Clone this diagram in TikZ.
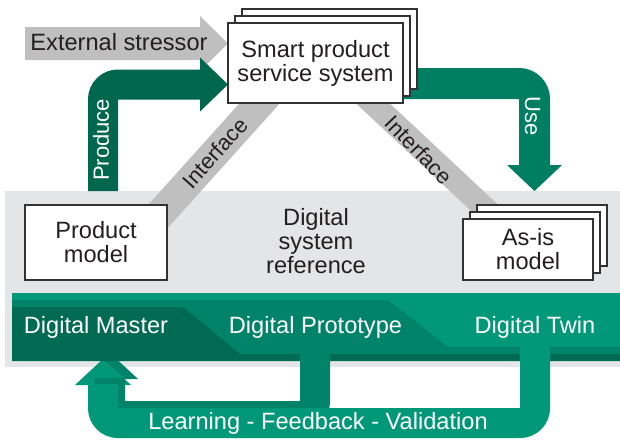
\documentclass[tikz,border=0pt]{standalone}
\usepackage{fontspec}
\setmainfont{Liberation Sans}
\definecolor{arrgray}{RGB}{191,191,191}
\definecolor{bandgray}{RGB}{228,229,230}
\definecolor{gProduce}{RGB}{0,103,79}
\definecolor{gUse}{RGB}{0,126,97}
\definecolor{gMaster}{RGB}{0,107,82}
\definecolor{gProto}{RGB}{0,131,104}
\definecolor{gTwin}{RGB}{0,152,121}
\definecolor{txt}{RGB}{35,31,32}
\definecolor{boxline}{RGB}{50,50,50}
\newcommand\bigf{\fontsize{23.6}{24}\selectfont}
\newcommand\smf{\fontsize{22}{24}\selectfont}
\begin{document}
\begin{tikzpicture}[x=1pt,y=-1pt,
  box/.style={draw=boxline, fill=white, line width=1.1pt},
  boxnode/.style={box, inner sep=0pt, align=center, text=txt, font=\bigf},
  wlabel/.style={text=white, inner sep=0pt, font=\bigf},
  rlabel/.style={inner sep=0pt, font=\smf},
  bar/.style={line width=30pt, rounded corners=15pt}]
\useasboundingbox (0,0) rectangle (620,442);
% light gray digital system reference band
\fill[bandgray] (5,191) rectangle (620,367);
% interface bands
\coordinate (ifLa) at (127.7,250);
\coordinate (ifLb) at (289.7,70);
\coordinate (ifRa) at (337.1,70);
\coordinate (ifRb) at (513.7,235);
\draw[arrgray, line width=30pt] (ifLa) -- (ifLb);
\draw[arrgray, line width=23pt] (ifRa) -- (ifRb);
% external stressor arrow
\fill[arrgray] (25,27) -- (200,27) -- (200,16) -- (228,43.5) -- (200,71) -- (200,60) -- (25,60) -- cycle;
\node[rlabel, font=\bigf, text=txt] (ext) at (119,42.5) {External stressor};
% produce arrow
\coordinate (prA) at (103,191);
\coordinate (prB) at (103,84.5);
\coordinate (prC) at (201,84.5);
\draw[gProduce, bar] (prA) -- (prB) -- (prC);
\fill[gProduce] (200,57.5) -- (228,84.5) -- (200,111.5) -- cycle;
\node[rlabel, text=white, rotate=90] (produce) at (101,140) {Produce};
% use arrow
\coordinate (usA) at (395,83.5);
\coordinate (usB) at (534.5,83.5);
\coordinate (usC) at (534.5,166);
\draw[gUse, line width=31pt, rounded corners=15.5pt] (usA) -- (usB) -- (usC);
\fill[gUse] (507,165) -- (562,165) -- (534.5,191) -- cycle;
\node[rlabel, text=white, rotate=-90] (use) at (532.5,116) {Use};
% smart product service system
\draw[box] (242,9) rectangle (417,89);
\draw[box] (235,16) rectangle (410,96);
\node[boxnode, minimum width=175pt, minimum height=80pt] (sps) at (315.5,63) {Smart product\\service system};
% product model
\node[boxnode, minimum width=142pt, minimum height=75pt] (pm) at (96,242.5) {Product\\model};
% as-is model
\draw[box] (477,205) rectangle (607,266);
\draw[box] (470,212) rectangle (600,273);
\node[boxnode, minimum width=130pt, minimum height=61pt] (asis) at (528,249.5) {As-is\\model};
% digital system reference
\node[align=center, text=txt, font=\bigf, inner sep=0pt] (dsr) at (316,241) {Digital\\system\\reference};
% interface labels
\node[rlabel, text=txt, rotate=48] (ifL) at (215,153) {Interface};
\node[rlabel, text=txt, rotate=-46] (ifR) at (419,150) {Interface};
% feedback arrow heads (under the band)
\fill[gProto] (82,379) -- (110,353) -- (138,379) -- cycle;
\fill[gTwin] (75,385) -- (103,359) -- (131,385) -- cycle;
% green band
\fill[gTwin] (12,293) rectangle (620,347);
\fill[gProto] (12,300) -- (388,300) -- (448,347) -- (620,347) -- (620,354) -- (12,354) -- cycle;
\fill[gMaster] (12,307) -- (183,307) -- (240,354) -- (620,354) -- (620,361) -- (12,361) -- cycle;
\node[wlabel] (dm) at (96,327) {Digital Master};
\node[wlabel] (dp) at (315.5,327) {Digital Prototype};
\node[wlabel] (dt) at (535,327) {Digital Twin};
% feedback loops
\coordinate (fpA) at (315,347);
\coordinate (fpB) at (315,416);
\coordinate (fpC) at (110,416);
\coordinate (fpD) at (110,378);
\draw[gProto, bar] (fpA) -- (fpB) -- (fpC) -- (fpD);
\coordinate (ftA) at (535,347);
\coordinate (ftB) at (535,423);
\coordinate (ftC) at (103,423);
\coordinate (ftD) at (103,384);
\draw[gTwin, bar] (ftA) -- (ftB) -- (ftC) -- (ftD);
\node[wlabel] (lfv) at (318,423) {Learning - Feedback - Validation};
\end{tikzpicture}
\end{document}
